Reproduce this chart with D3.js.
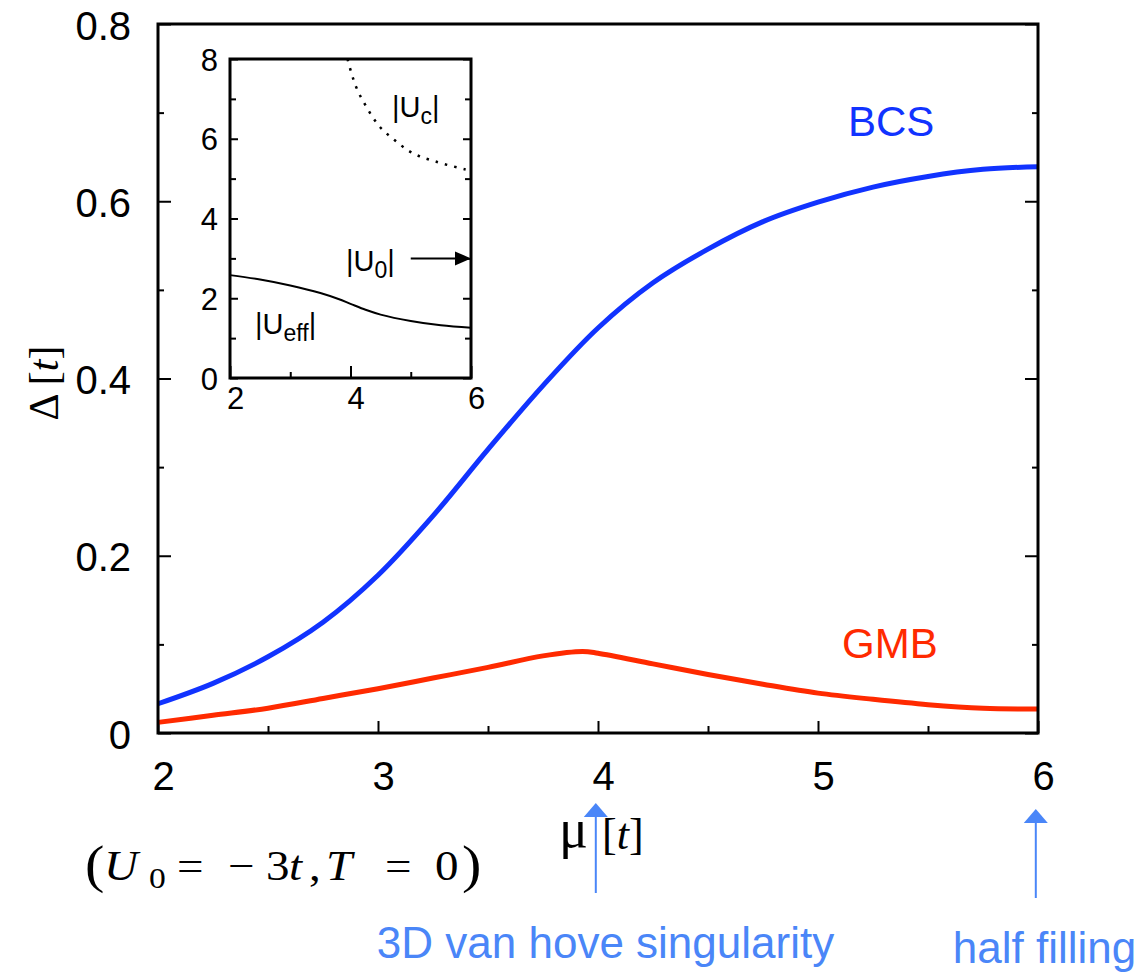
<!DOCTYPE html>
<html>
<head>
<meta charset="utf-8">
<script src="https://cdn.jsdelivr.net/npm/d3@7"></script>
<style>
  body { margin: 0; background: #fff; }
</style>
</head>
<body>
<div id="chart-area"></div>
<script>
// values
const muBCS = [2, 2.25, 2.5, 2.75, 3, 3.25, 3.5, 3.75, 4, 4.25, 4.5, 4.75, 5, 5.25, 5.5, 5.75, 6]
const deltaBCS = [0.033, 0.056, 0.086, 0.125, 0.178, 0.245, 0.320, 0.392, 0.457, 0.508, 0.546, 0.577, 0.599, 0.616, 0.628, 0.636, 0.639]
const muGMB = [2, 2.25, 2.5, 2.75, 3, 3.25, 3.5, 3.75, 3.93, 4, 4.25, 4.5, 4.75, 5, 5.25, 5.5, 5.75, 6]
const deltaGMB = [0.012, 0.020, 0.028, 0.039, 0.050, 0.062, 0.074, 0.087, 0.092, 0.090, 0.078, 0.066, 0.055, 0.045, 0.038, 0.032, 0.028, 0.027]

// inset
const muEff = [2, 2.5, 3, 3.5, 3.8, 4, 4.25, 4.5, 5, 5.5, 6]
const uEff = [2.58, 2.47, 2.32, 2.13, 1.98, 1.86, 1.71, 1.59, 1.43, 1.32, 1.26]
const muC = [3.95, 4.09, 4.26, 4.48, 4.73, 5.03, 5.41, 5.91, 6]
const uC = [8, 7.31, 6.81, 6.31, 5.97, 5.64, 5.43, 5.23, 5.2]
const U0 = 3

const xTicks = [2, 3, 4, 5, 6]
const xMinor = [2.5, 3.5, 4.5, 5.5]
const yTicks = [0, 0.2, 0.4, 0.6, 0.8]
const yMinor = [0.1, 0.3, 0.5, 0.7]
const insetXTicks = [2, 4, 6]
const insetXMinor = [3, 5]
const insetYTicks = [0, 2, 4, 6, 8]
const insetYMinor = [1, 3, 5, 7]

const annotMu = [3.99, 5.99]
const annotText = ["3D van hove singularity", "half filling"]

const BLUE = "#1133ff"
const RED = "#ff2a00"
const NOTE = "#4a86f8"
const SANS = "'Liberation Sans', Arial, Helvetica, sans-serif"
const SERIF = "'Liberation Serif', 'Times New Roman', serif"

const SVG_WIDTH = 1137
const SVG_HEIGHT = 973

const svg = d3.select("#chart-area").append("svg")
  .attr("width", SVG_WIDTH)
  .attr("height", SVG_HEIGHT)

// main plot box
const P = { left: 158, right: 1038, top: 24, bottom: 733 }

const x = d3.scaleLinear().domain([2, 6]).range([P.left, P.right])
const y = d3.scaleLinear().domain([0, 0.8]).range([P.bottom, P.top])

function noDomain(g) { g.select(".domain").remove() }

function tickStyle(g, fs) {
  g.attr("font-family", SANS).attr("font-size", fs)
  g.selectAll(".tick line").attr("stroke", "#000").attr("stroke-width", 2)
  g.selectAll(".tick text").attr("fill", "#000")
}

// bottom
svg.append("g")
  .attr("transform", `translate(0, ${P.bottom})`)
  .call(d3.axisBottom(x).tickValues(xTicks).tickSize(-12).tickPadding(29).tickFormat(d3.format("d")))
  .call(noDomain)
  .call(g => tickStyle(g, 40))
  .selectAll("text").attr("x", 5)
svg.append("g")
  .attr("transform", `translate(0, ${P.bottom})`)
  .call(d3.axisBottom(x).tickValues(xMinor).tickSize(-7).tickFormat(""))
  .call(noDomain)
  .call(g => tickStyle(g, 40))

// left
svg.append("g")
  .attr("transform", `translate(${P.left}, 0)`)
  .call(d3.axisLeft(y).tickValues(yTicks).tickSize(-13).tickPadding(27).tickFormat(d => d === 0 ? "0" : d3.format(".1f")(d)))
  .call(noDomain)
  .call(g => tickStyle(g, 40))
  .selectAll("text").attr("dy", "0.38em")
svg.append("g")
  .attr("transform", `translate(${P.left}, 0)`)
  .call(d3.axisLeft(y).tickValues(yMinor).tickSize(-6).tickFormat(""))
  .call(noDomain)
  .call(g => tickStyle(g, 40))

// right (mirror)
svg.append("g")
  .attr("transform", `translate(${P.right}, 0)`)
  .call(d3.axisRight(y).tickValues(yTicks).tickSize(-13).tickFormat(""))
  .call(noDomain)
  .call(g => tickStyle(g, 40))
svg.append("g")
  .attr("transform", `translate(${P.right}, 0)`)
  .call(d3.axisRight(y).tickValues(yMinor).tickSize(-6).tickFormat(""))
  .call(noDomain)
  .call(g => tickStyle(g, 40))

// curves
const line = d3.line().x(d => x(d[0])).y(d => y(d[1])).curve(d3.curveCatmullRom.alpha(0.5))

svg.append("path")
  .datum(d3.zip(muBCS, deltaBCS))
  .attr("d", line)
  .attr("fill", "none")
  .attr("stroke", BLUE)
  .attr("stroke-width", 5)

svg.append("path")
  .datum(d3.zip(muGMB, deltaGMB))
  .attr("d", line)
  .attr("fill", "none")
  .attr("stroke", RED)
  .attr("stroke-width", 5)

svg.append("rect")
  .attr("x", P.left).attr("y", P.top)
  .attr("width", P.right - P.left).attr("height", P.bottom - P.top)
  .attr("fill", "none").attr("stroke", "#000").attr("stroke-width", 3)

// series labels
svg.append("text")
  .attr("x", 848).attr("y", 136)
  .attr("font-family", SANS).attr("font-size", 42)
  .attr("fill", BLUE)
  .text("BCS")
svg.append("text")
  .attr("x", 842).attr("y", 658)
  .attr("font-family", SANS).attr("font-size", 42)
  .attr("fill", RED)
  .text("GMB")

// axis labels
const yl = svg.append("text")
  .attr("transform", "translate(58, 383) rotate(-90)")
  .attr("text-anchor", "middle")
  .attr("font-family", SERIF).attr("font-size", 42)
yl.append("tspan").text("\u0394 [")
yl.append("tspan").attr("font-style", "italic").text("t")
yl.append("tspan").text("]")

svg.append("text")
  .attr("x", 559).attr("y", 847)
  .attr("font-family", SERIF).attr("font-size", 54)
  .text("\u03bc")
const xl = svg.append("text")
  .attr("x", 602).attr("y", 849)
  .attr("font-family", SERIF).attr("font-size", 44)
xl.append("tspan").text("[")
xl.append("tspan").attr("font-style", "italic").text("t")
xl.append("tspan").text("]")

// (U0 = -3t, T = 0), pieces placed like the typeset formula
const SX = 1.12
const formula = [
  { s: "(", x: 85, fs: 52, dy: 2 },
  { s: "U", x: 104, it: true },
  { s: "0", x: 149, fs: 30, dy: 8 },
  { s: "=", x: 177 },
  { s: "\u2212", x: 228 },
  { s: "3", x: 266 },
  { s: "t", x: 289, it: true },
  { s: ",", x: 309 },
  { s: "T", x: 326, it: true },
  { s: "=", x: 385 },
  { s: "0", x: 435 },
  { s: ")", x: 462, fs: 52, dy: 2 }
]
const par = svg.append("text")
  .attr("transform", `translate(85, 880) scale(${SX}, 1)`)
  .attr("font-family", SERIF).attr("font-size", 42)
par.selectAll("tspan")
  .data(formula)
  .enter().append("tspan")
  .attr("x", d => (d.x - 85) / SX)
  .attr("y", d => d.dy || 0)
  .attr("font-size", d => d.fs || null)
  .attr("font-style", d => d.it ? "italic" : null)
  .text(d => d.s)

// blue annotations below the axis
const notes = [
  { mu: annotMu[0], text: annotText[0], y0: 893, y1: 803, tx: -219, ty: 958 },
  { mu: annotMu[1], text: annotText[1], y0: 898, y1: 809, tx: -83, ty: 963 }
]
notes.forEach(n => {
  const ax = x(n.mu)
  svg.append("line")
    .attr("x1", ax).attr("x2", ax)
    .attr("y1", n.y0).attr("y2", n.y1 + 12)
    .attr("stroke", NOTE).attr("stroke-width", 2)
  svg.append("path")
    .attr("d", `M${ax - 12},${n.y1 + 14} L${ax},${n.y1} L${ax + 12},${n.y1 + 14} Z`)
    .attr("fill", NOTE)
  svg.append("text")
    .attr("x", ax + n.tx).attr("y", n.ty)
    .attr("font-family", SANS).attr("font-size", 44)
    .attr("fill", NOTE)
    .text(n.text)
})

// ---------- inset ----------
const I = { left: 230, right: 471, top: 59, bottom: 378 }
const ix = d3.scaleLinear().domain([2, 6]).range([I.left, I.right])
const iy = d3.scaleLinear().domain([0, 8]).range([I.bottom, I.top])

svg.append("rect")
  .attr("x", I.left).attr("y", I.top)
  .attr("width", I.right - I.left).attr("height", I.bottom - I.top)
  .attr("fill", "#fff")

svg.append("g")
  .attr("transform", `translate(0, ${I.bottom})`)
  .call(d3.axisBottom(ix).tickValues(insetXTicks).tickSize(-12).tickPadding(9).tickFormat(d3.format("d")))
  .call(noDomain)
  .call(g => tickStyle(g, 31))
  .selectAll("text").attr("x", 5)
svg.append("g")
  .attr("transform", `translate(0, ${I.bottom})`)
  .call(d3.axisBottom(ix).tickValues(insetXMinor).tickSize(-6).tickFormat(""))
  .call(noDomain)
  .call(g => tickStyle(g, 31))

svg.append("g")
  .attr("transform", `translate(${I.left}, 0)`)
  .call(d3.axisLeft(iy).tickValues(insetYTicks).tickSize(-8).tickPadding(12).tickFormat(d3.format("d")))
  .call(noDomain)
  .call(g => tickStyle(g, 31))
  .selectAll("text").attr("dy", "0.36em")
svg.append("g")
  .attr("transform", `translate(${I.left}, 0)`)
  .call(d3.axisLeft(iy).tickValues(insetYMinor).tickSize(-6).tickFormat(""))
  .call(noDomain)
  .call(g => tickStyle(g, 31))
svg.append("g")
  .attr("transform", `translate(${I.right}, 0)`)
  .call(d3.axisRight(iy).tickValues(insetYTicks).tickSize(-8).tickFormat(""))
  .call(noDomain)
  .call(g => tickStyle(g, 31))
svg.append("g")
  .attr("transform", `translate(${I.right}, 0)`)
  .call(d3.axisRight(iy).tickValues(insetYMinor).tickSize(-6).tickFormat(""))
  .call(noDomain)
  .call(g => tickStyle(g, 31))

const iline = d3.line().x(d => ix(d[0])).y(d => iy(d[1])).curve(d3.curveCatmullRom.alpha(0.5))

svg.append("path")
  .datum(d3.zip(muEff, uEff))
  .attr("d", iline)
  .attr("fill", "none").attr("stroke", "#000").attr("stroke-width", 2)

svg.append("path")
  .datum(d3.zip(muC, uC))
  .attr("d", iline)
  .attr("fill", "none").attr("stroke", "#000").attr("stroke-width", 2.5)
  .attr("stroke-dasharray", "2.5,7")

// |U0| arrow
svg.append("line")
  .attr("x1", ix(5)).attr("x2", ix(6) - 14)
  .attr("y1", iy(U0)).attr("y2", iy(U0))
  .attr("stroke", "#000").attr("stroke-width", 2)
svg.append("path")
  .attr("d", `M${ix(6) - 16},${iy(U0) - 7} L${ix(6)},${iy(U0)} L${ix(6) - 16},${iy(U0) + 7} Z`)
  .attr("fill", "#000")

svg.append("rect")
  .attr("x", I.left).attr("y", I.top)
  .attr("width", I.right - I.left).attr("height", I.bottom - I.top)
  .attr("fill", "none").attr("stroke", "#000").attr("stroke-width", 3)

function uLabel(px, py, sub) {
  const t = svg.append("text")
    .attr("x", px).attr("y", py)
    .attr("font-family", SANS).attr("font-size", 29)
  t.append("tspan").text("|U")
  t.append("tspan").attr("font-size", 23).attr("dy", 7).text(sub)
  t.append("tspan").attr("dy", -7).text("|")
}
uLabel(392, 117, "c")
uLabel(346, 271, "0")
uLabel(255, 334, "eff")
</script>
</body>
</html>
